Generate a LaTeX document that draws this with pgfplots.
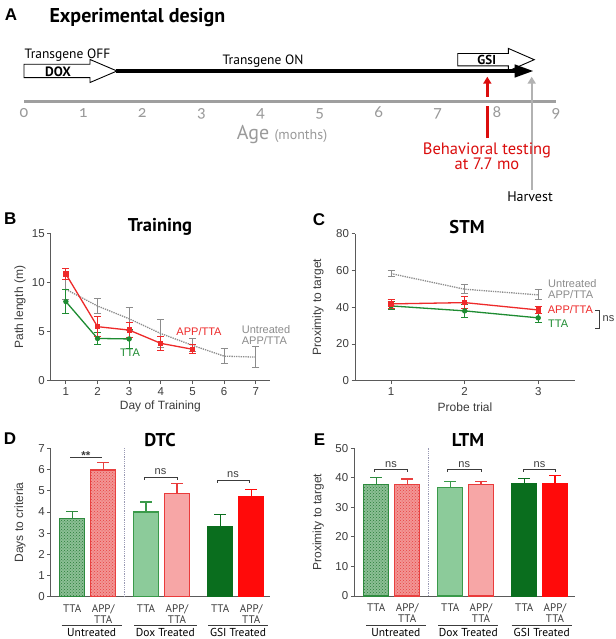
\documentclass[border=0pt]{standalone}
\usepackage{fontspec}
\setmainfont{Liberation Sans}
\newfontfamily\hum{PT Sans}
\newfontfamily\oldnum[Numbers=OldStyle]{Carlito}
\usepackage{pgfplots}
\pgfplotsset{compat=1.18}
\usetikzlibrary{patterns,arrows.meta}

\definecolor{txt}{HTML}{3C3C3C}
\definecolor{axl}{HTML}{5A5A5A}
\definecolor{cred}{HTML}{EE2A2A}
\definecolor{cgreen}{HTML}{1E8C32}
\definecolor{cgray}{HTML}{8C8C8C}
\definecolor{gsigreen}{HTML}{0A6E1E}
\definecolor{gsired}{HTML}{FF0A0A}
\definecolor{doxgreen}{HTML}{8CCB9A}
\definecolor{doxgreenE}{HTML}{3A9A4A}
\definecolor{doxpink}{HTML}{F7A6A6}
\definecolor{doxpinkE}{HTML}{EA3B3B}
\definecolor{untgreen}{HTML}{2E8B3E}
\definecolor{untred}{HTML}{E8403F}
\definecolor{sep}{HTML}{9A9AB4}
\definecolor{agegray}{HTML}{9A9A9A}

\pgfplotsset{
  gp/.style={scale only axis, anchor=south west, clip=false,
    axis x line*=bottom, axis y line*=left,
    axis line style={-, axl, line width=0.9pt},
    tick style={axl, line width=0.9pt}, tick align=outside, major tick length=3.5pt,
    tick label style={font=\fontsize{11.5}{12}\selectfont, text=txt},
    yticklabel style={xshift=1pt},
    label style={font=\fontsize{12}{13}\selectfont, text=txt},
    /pgf/number format/assume math mode=true,
    ylabel style={anchor=center}, xlabel style={anchor=center}},
  barbase/.style={ybar, bar width=25, bar shift=0pt, line width=1.1pt,
    error bars/y dir=plus, error bars/y explicit,
    error bars/error bar style={line width=1.1pt, #1},
    error bars/error mark options={rotate=90, mark size=6pt, line width=1.1pt, #1}},
  ebar/.style={error bars/y dir=both, error bars/y explicit,
    error bars/error bar style={solid, line width=1pt, #1},
    error bars/error mark options={solid, rotate=90, mark size=3.5pt, line width=1pt, #1}},
}

\begin{document}
\begin{tikzpicture}
\path[use as bounding box, fill=white] (0,0) rectangle (615pt,-639pt);

% ---------------- Panel A ----------------
\node[font=\bfseries\fontsize{17}{17}\selectfont] at (11pt,-14.5pt) {A};
\node[font=\hum\bfseries\fontsize{20}{20}\selectfont, anchor=west] at (46pt,-18pt) {Experimental design};

\begin{axis}[scale only axis, anchor=south west, at={(24pt,-101.7pt)},
  width=532pt, height=56.7pt, xmin=0, xmax=9, ymin=0, ymax=56.7, clip=false,
  axis x line*=bottom, axis y line=none,
  axis line style={-, line width=2.6pt, color=gray!75},
  xtick={0,1,2,3,4,5,6,7,8,9}, major tick length=0pt,
  xticklabels={0,1,2,3,4,5,6,7,8,9},
  xticklabel style={font=\oldnum\fontsize{17}{17}\selectfont, text=agegray, anchor=base, yshift=-16pt}]
  % GSI open arrow
  \draw[line width=0.9pt, fill=white] (axis cs:7.337,35.8) -- (axis cs:8.193,35.8) -- (axis cs:8.193,30.7)
     -- (axis cs:8.632,42) -- (axis cs:8.193,53.3) -- (axis cs:8.193,48.2) -- (axis cs:7.337,48.2) -- cycle;
  % black arrow
  \draw[line width=4pt] (axis cs:1.55,30.7) -- (axis cs:8.36,30.7);
  \fill (axis cs:8.30,37.4) -- (axis cs:8.61,30.7) -- (axis cs:8.30,24.0) -- cycle;
  % DOX open arrow
  \draw[line width=0.9pt, fill=white] (axis cs:0,24.0) -- (axis cs:1.117,24.0) -- (axis cs:1.117,19.2)
     -- (axis cs:1.573,30.7) -- (axis cs:1.117,42.2) -- (axis cs:1.117,37.4) -- (axis cs:0,37.4) -- cycle;
  % red arrow (behavioral testing)
  \draw[red!85!black!95, line width=2.4pt] (axis cs:7.838,-36.3) -- (axis cs:7.838,-4.3);
  \draw[red!85!black!95, line width=2.4pt, -{Triangle[length=7pt,width=8pt]}] (axis cs:7.838,5) -- (axis cs:7.838,25);
  % gray arrow (harvest)
  \draw[gray!60, line width=2.4pt, -{Triangle[length=7pt,width=8pt]}] (axis cs:8.589,-88.3) -- (axis cs:8.589,25);
\end{axis}

\node[font=\hum\fontsize{13.5}{13.5}\selectfont] at (67.5pt,-55pt) {Transgene OFF};
\node[font=\hum\bfseries\fontsize{13.5}{13.5}\selectfont] at (58pt,-72pt) {DOX};
\node[font=\hum\fontsize{13.5}{13.5}\selectfont] at (263pt,-61pt) {Transgene ON};
\node[font=\hum\bfseries\fontsize{13}{13}\selectfont] at (486.7pt,-60pt) {GSI};
\node[text=agegray] at (282pt,-135pt) {\hum\fontsize{20}{20}\selectfont Age \fontsize{14}{14}\selectfont(months)};
\node[text=red!85!black!95, font=\hum\fontsize{16.5}{16.5}\selectfont, align=center] at (487pt,-156.5pt) {Behavioral testing\\[-1.5pt]at 7.7 mo};
\node[font=\hum\fontsize{14}{14}\selectfont] at (530pt,-197pt) {Harvest};

% ---------------- Panel B ----------------
\node[font=\bfseries\fontsize{17}{17}\selectfont] at (10.3pt,-219pt) {B};
\node[font=\hum\bfseries\fontsize{18.5}{18.5}\selectfont] at (160pt,-226.7pt) {Training};
\begin{axis}[gp, at={(50.7pt,-380.7pt)}, width=219.3pt, height=147.4pt,
  xmin=0.52, xmax=7.45, ymin=0, ymax=15, xtick={1,2,3,4,5,6,7}, ytick={0,5,10,15},
  xlabel={Day of Training}, ylabel={Path length (m)},
  xlabel style={at={(axis description cs:0.5,-0.177)}},
  ylabel style={at={(axis description cs:-0.14,0.5)}}]
\addplot[cgray, densely dotted, line width=1.3pt, ebar=cgray] table[y error=e] {
x y e
1 9.3 1.0
2 7.6 0.8
3 6.3 1.2
4 4.8 1.4
5 3.6 0.65
6 2.5 0.8
7 2.4 1.05
};
\addplot[cgreen, line width=1.3pt, mark=*, mark size=2pt, ebar=cgreen] table[y error=e] {
x y e
1 8.05 1.2
2 4.3 0.62
3 4.25 1.0
};
\addplot[cred, line width=1.3pt, mark=square*, mark size=2pt, ebar=cred] table[y error=e] {
x y e
1 10.85 0.6
2 5.5 1.0
3 5.15 0.75
4 3.8 0.72
5 3.2 0.45
};
\end{axis}
\node[text=cred, font=\fontsize{11}{12}\selectfont] at (199pt,-331.7pt) {APP/TTA};
\node[text=cgreen, font=\fontsize{11}{12}\selectfont] at (130pt,-352.7pt) {TTA};
\node[text=cgray, font=\fontsize{11}{11}\selectfont, align=left, anchor=west, inner sep=0pt] at (241.7pt,-335.5pt) {Untreated\\APP/TTA};

% ---------------- Panel C ----------------
\node[font=\bfseries\fontsize{17}{17}\selectfont] at (319pt,-219.5pt) {C};
\node[font=\hum\bfseries\fontsize{18.5}{18.5}\selectfont] at (467pt,-226.7pt) {STM};
\begin{axis}[gp, at={(355pt,-380.7pt)}, width=220pt, height=147pt,
  xmin=0.51, xmax=3.5, ymin=0, ymax=80, xtick={1,2,3}, ytick={0,20,40,60,80},
  xlabel={Probe trial}, ylabel={Proximity to target},
  xlabel style={at={(axis description cs:0.5,-0.177)}},
  ylabel style={at={(axis description cs:-0.168,0.5)}}]
\addplot[cgray, densely dotted, line width=1.3pt, ebar=cgray] table[y error=e] {
x y e
1 58.3 1.6
2 49.8 2.5
3 46.7 2.7
};
\addplot[cgreen, line width=1.3pt, mark=*, mark size=2pt, ebar=cgreen] table[y error=e] {
x y e
1 40.7 2.2
2 38.0 3.5
3 34.2 2.6
};
\addplot[cred, line width=1.3pt, mark=square*, mark size=2pt, ebar=cred] table[y error=e] {
x y e
1 41.8 2.6
2 42.5 3.3
3 38.5 1.9
};
\end{axis}
\node[text=cgray, font=\fontsize{11}{11}\selectfont, align=left, anchor=west, inner sep=0pt] at (548pt,-288.7pt) {Untreated\\APP/TTA};
\node[text=cred, font=\fontsize{11}{12}\selectfont, anchor=west, inner sep=0pt] at (547.7pt,-309.3pt) {APP/TTA};
\node[text=cgreen, font=\fontsize{11}{12}\selectfont, anchor=west, inner sep=0pt] at (548pt,-323.3pt) {TTA};
\draw[txt, line width=0.9pt] (595pt,-310pt) -- (599pt,-310pt) -- (599pt,-328.3pt) -- (595pt,-328.3pt);
\node[text=txt, font=\fontsize{11}{12}\selectfont, anchor=west, inner sep=0pt] at (602.5pt,-318.5pt) {ns};

% ---------------- Panel D ----------------
\node[font=\bfseries\fontsize{17}{17}\selectfont] at (10pt,-438.5pt) {D};
\node[font=\hum\bfseries\fontsize{18.5}{18.5}\selectfont] at (160pt,-440pt) {DTC};
\begin{axis}[gp, at={(50.7pt,-596.7pt)}, width=219.3pt, height=148.3pt,
  xmin=0, xmax=219.3, ymin=0, ymax=7, ytick={0,1,2,3,4,5,6,7},
  xtick={21.5,52.5,95.3,126.3,169.5,200.6},
  xticklabels={TTA,{APP/\\TTA},TTA,{APP/\\TTA},TTA,{APP/\\TTA}},
  x tick style={draw=none},
  xticklabel style={font=\hum\fontsize{11}{11}\selectfont, align=center, anchor=north, yshift=-1pt},
  ylabel={Days to criteria},
  ylabel style={at={(axis description cs:-0.14,0.5)}}]
\draw[sep, densely dotted, line width=0.8pt] (axis cs:73.6,0) -- (axis cs:73.6,7);
\addplot[barbase=untgreen, draw=untgreen, fill=untgreen!55!white,
  postaction={pattern=crosshatch dots, pattern color=untgreen!90!black}] coordinates {(21.5,3.70) +- (0,0.34)};
\addplot[barbase=untred, draw=untred, fill=untred!55!white,
  postaction={pattern=crosshatch dots, pattern color=untred}] coordinates {(52.5,5.98) +- (0,0.36)};
\addplot[barbase=doxgreenE, draw=doxgreenE, fill=doxgreen] coordinates {(95.3,4.00) +- (0,0.47)};
\addplot[barbase=doxpinkE, draw=doxpinkE, fill=doxpink] coordinates {(126.3,4.88) +- (0,0.47)};
\addplot[barbase=gsigreen, draw=gsigreen, fill=gsigreen] coordinates {(169.5,3.33) +- (0,0.57)};
\addplot[barbase=gsired, draw=gsired, fill=gsired] coordinates {(200.6,4.75) +- (0,0.33)};
% significance
\draw[txt, line width=0.8pt] (axis cs:19.3,6.58) -- (axis cs:51,6.58);
\node[text=txt, font=\bfseries\fontsize{11.5}{11}\selectfont, anchor=base, inner sep=0pt] at (axis cs:35.2,6.48) {**};
\draw[txt, line width=0.8pt] (axis cs:93.3,5.51) -- (axis cs:93.3,5.65) -- (axis cs:126.3,5.65) -- (axis cs:126.3,5.51);
\node[text=txt, font=\fontsize{11}{11}\selectfont, anchor=base, inner sep=0pt] at (axis cs:109.8,5.75) {ns};
\draw[txt, line width=0.8pt] (axis cs:166.3,5.37) -- (axis cs:166.3,5.51) -- (axis cs:198.3,5.51) -- (axis cs:198.3,5.37);
\node[text=txt, font=\fontsize{11}{11}\selectfont, anchor=base, inner sep=0pt] at (axis cs:182.3,5.62) {ns};
\end{axis}
\draw[txt, line width=0.8pt] (61.7pt,-625pt) -- (121.7pt,-625pt);
\draw[txt, line width=0.8pt] (134pt,-625pt) -- (196.7pt,-625pt);
\draw[txt, line width=0.8pt] (208pt,-625pt) -- (268pt,-625pt);
\node[font=\hum\fontsize{11.5}{11}\selectfont] at (91.7pt,-632.5pt) {Untreated};
\node[font=\hum\fontsize{11.5}{11}\selectfont] at (165.3pt,-632.5pt) {Dox Treated};
\node[font=\hum\fontsize{11.5}{11}\selectfont] at (238pt,-632.5pt) {GSI Treated};

% ---------------- Panel E ----------------
\node[font=\bfseries\fontsize{17}{17}\selectfont] at (319.5pt,-440pt) {E};
\node[font=\hum\bfseries\fontsize{18.5}{18.5}\selectfont] at (468pt,-440pt) {LTM};
\begin{axis}[gp, at={(354.3pt,-596pt)}, width=220.7pt, height=147.7pt,
  xmin=0, xmax=220.7, ymin=0, ymax=50, ytick={0,10,20,30,40,50},
  xtick={21.9,52.9,96,126.7,170,200.7},
  xticklabels={TTA,{APP/\\TTA},TTA,{APP/\\TTA},TTA,{APP/\\TTA}},
  x tick style={draw=none},
  xticklabel style={font=\hum\fontsize{11}{11}\selectfont, align=center, anchor=north, yshift=-1pt},
  ylabel={Proximity to target},
  ylabel style={at={(axis description cs:-0.163,0.5)}}]
\draw[sep, densely dotted, line width=0.8pt] (axis cs:74,0) -- (axis cs:74,50);
\addplot[barbase=untgreen, draw=untgreen, fill=untgreen!55!white,
  postaction={pattern=crosshatch dots, pattern color=untgreen!90!black}] coordinates {(21.9,37.8) +- (0,2.4)};
\addplot[barbase=untred, draw=untred, fill=untred!55!white,
  postaction={pattern=crosshatch dots, pattern color=untred}] coordinates {(52.9,37.6) +- (0,2.0)};
\addplot[barbase=doxgreenE, draw=doxgreenE, fill=doxgreen] coordinates {(96,36.6) +- (0,2.3)};
\addplot[barbase=doxpinkE, draw=doxpinkE, fill=doxpink] coordinates {(126.7,37.8) +- (0,1.1)};
\addplot[barbase=gsigreen, draw=gsigreen, fill=gsigreen] coordinates {(170,38.0) +- (0,1.8)};
\addplot[barbase=gsired, draw=gsired, fill=gsired] coordinates {(200.7,38.1) +- (0,2.6)};
\draw[txt, line width=0.8pt] (axis cs:20,42.0) -- (axis cs:20,43.0) -- (axis cs:53.4,43.0) -- (axis cs:53.4,42.0);
\node[text=txt, font=\fontsize{11}{11}\selectfont, anchor=base, inner sep=0pt] at (axis cs:36.7,43.6) {ns};
\draw[txt, line width=0.8pt] (axis cs:93.4,42.0) -- (axis cs:93.4,43.0) -- (axis cs:126.7,43.0) -- (axis cs:126.7,42.0);
\node[text=txt, font=\fontsize{11}{11}\selectfont, anchor=base, inner sep=0pt] at (axis cs:110,43.6) {ns};
\draw[txt, line width=0.8pt] (axis cs:169,42.0) -- (axis cs:169,43.0) -- (axis cs:201.4,43.0) -- (axis cs:201.4,42.0);
\node[text=txt, font=\fontsize{11}{11}\selectfont, anchor=base, inner sep=0pt] at (axis cs:185.2,43.6) {ns};
\end{axis}
\draw[txt, line width=0.8pt] (366pt,-625pt) -- (425.7pt,-625pt);
\draw[txt, line width=0.8pt] (438.3pt,-625pt) -- (498.3pt,-625pt);
\draw[txt, line width=0.8pt] (511.7pt,-625pt) -- (571.7pt,-625pt);
\node[font=\hum\fontsize{11.5}{11}\selectfont] at (395.8pt,-632.5pt) {Untreated};
\node[font=\hum\fontsize{11.5}{11}\selectfont] at (468.3pt,-632.5pt) {Dox Treated};
\node[font=\hum\fontsize{11.5}{11}\selectfont] at (541.7pt,-632.5pt) {GSI Treated};
\end{tikzpicture}
\end{document}
